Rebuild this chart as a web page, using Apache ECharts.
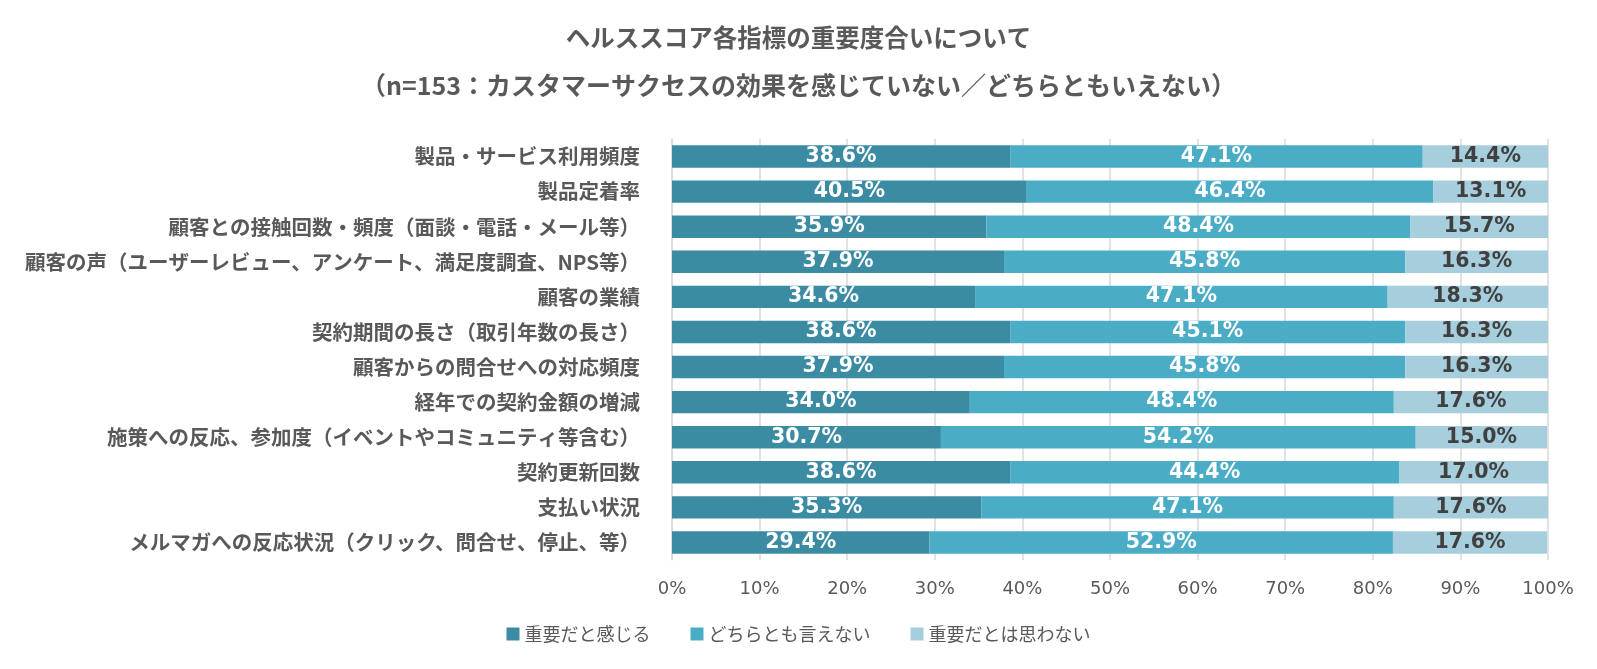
<!DOCTYPE html>
<html><head><meta charset="utf-8">
<script src="https://cdn.jsdelivr.net/npm/echarts@6/dist/echarts.min.js"></script>
<style>html,body{margin:0;padding:0;background:#fff}#c{width:1597px;height:669px}</style>
</head><body><div id="c"></div>
<script>
const categories = [
  "製品・サービス利用頻度",
  "製品定着率",
  "顧客との接触回数・頻度（面談・電話・メール等）",
  "顧客の声（ユーザーレビュー、アンケート、満足度調査、NPS等）",
  "顧客の業績",
  "契約期間の長さ（取引年数の長さ）",
  "顧客からの問合せへの対応頻度",
  "経年での契約金額の増減",
  "施策への反応、参加度（イベントやコミュニティ等含む）",
  "契約更新回数",
  "支払い状況",
  "メルマガへの反応状況（クリック、問合せ、停止、等）"
];
const important = [38.6, 40.5, 35.9, 37.9, 34.6, 38.6, 37.9, 34.0, 30.7, 38.6, 35.3, 29.4];
const neutral   = [47.1, 46.4, 48.4, 45.8, 47.1, 45.1, 45.8, 48.4, 54.2, 44.4, 47.1, 52.9];
const notImportant = [14.4, 13.1, 15.7, 16.3, 18.3, 16.3, 16.3, 17.6, 15.0, 17.0, 17.6, 17.6];
const seriesNames = ["重要だと感じる", "どちらとも言えない", "重要だとは思わない"];
const colors = ["#3B8BA2", "#4BACC6", "#A7CEDC"];
const labelColors = ["#ffffff", "#ffffff", "#404040"];
const titleLines = ["ヘルススコア各指標の重要度合いについて", "（n=153：カスタマーサクセスの効果を感じていない／どちらともいえない）"];

const font = '"Noto Sans CJK JP", "Noto Sans", sans-serif';
const numFont = '"DejaVu Sans", "Noto Sans", sans-serif';
const chart = echarts.init(document.getElementById('c'), null, {renderer: 'canvas'});
const dataSets = [important, neutral, notImportant];
chart.setOption({
  animation: false,
  textStyle: {fontFamily: font},
  title: [
    {text: titleLines[0], left: 'center', top: 20, textStyle: {fontSize: 24.5, fontWeight: 'bold', color: '#595959', fontFamily: font}},
    {text: titleLines[1], left: 'center', top: 68, textStyle: {fontSize: 25, fontWeight: 'bold', color: '#595959', fontFamily: font}}
  ],
  legend: {
    bottom: 21, left: 'center', itemWidth: 13, itemHeight: 13, itemGap: 40, icon: 'rect',
    textStyle: {fontSize: 18, color: '#595959', fontFamily: font},
    data: seriesNames
  },
  grid: {left: 672, right: 49, top: 139, height: 421, containLabel: false},
  xAxis: {
    type: 'value', min: 0, max: 100, interval: 10,
    axisLabel: {formatter: '{value}%', fontSize: 18, color: '#595959', margin: 20, fontFamily: numFont},
    splitLine: {show: true, lineStyle: {color: '#D9D9D9', width: 1.5}},
    axisLine: {show: false}, axisTick: {show: false}
  },
  yAxis: {
    type: 'category', data: categories, inverse: true,
    axisLabel: {fontSize: 20.5, fontWeight: 'bold', color: '#595959', margin: 32, fontFamily: font},
    axisLine: {show: true, lineStyle: {color: '#D9D9D9', width: 1.5}},
    axisTick: {show: false}
  },
  series: dataSets.map((d, i) => ({
    name: seriesNames[i], type: 'bar', stack: 'total', data: d,
    barCategoryGap: '36%',
    itemStyle: {color: colors[i]},
    label: {show: true, position: 'inside', formatter: p => p.value.toFixed(1) + '%',
      color: labelColors[i], fontSize: 20.5, fontWeight: 'bold', fontFamily: numFont}
  }))
});
</script></body></html>
